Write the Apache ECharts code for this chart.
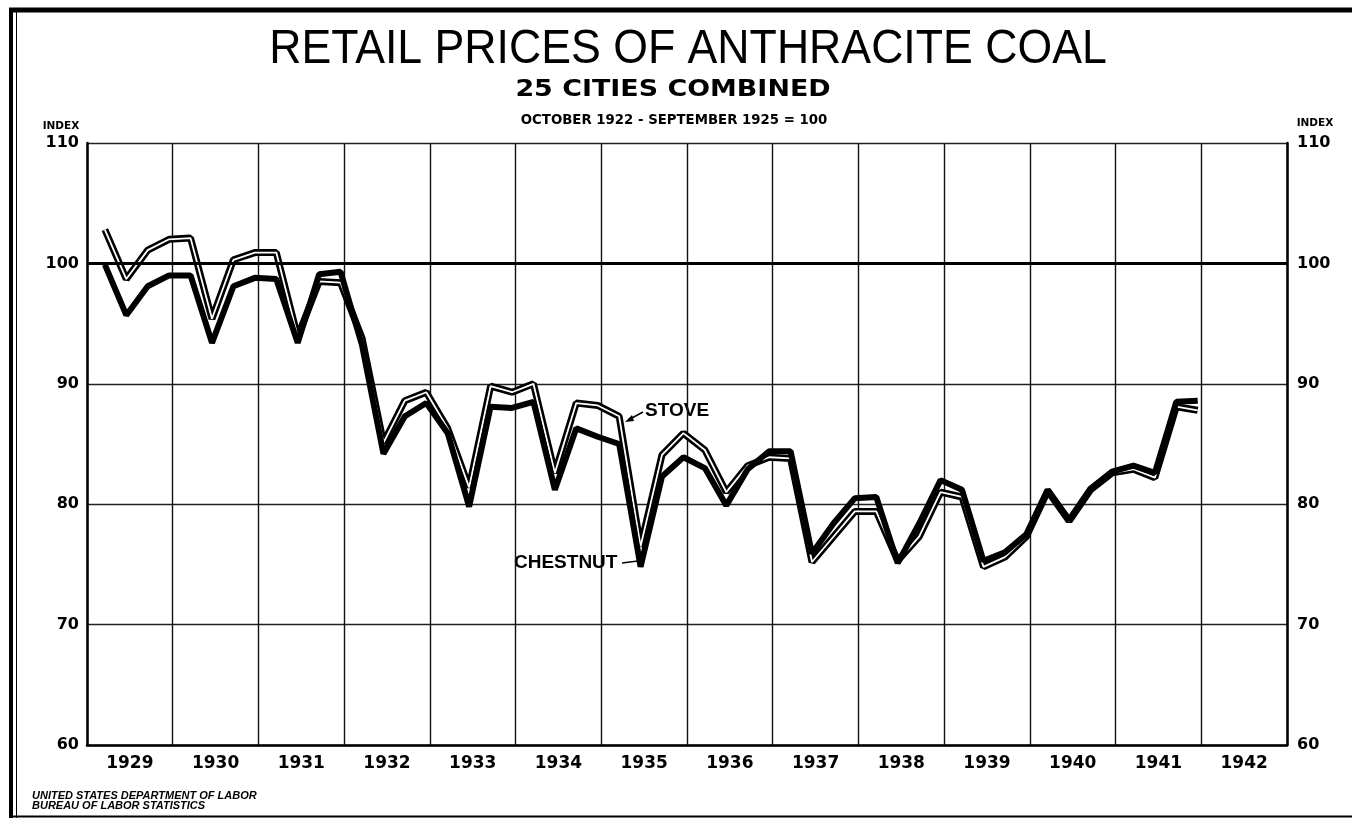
<!DOCTYPE html>
<html>
<head>
<meta charset="utf-8">
<script src="https://cdn.jsdelivr.net/npm/echarts@6/dist/echarts.min.js"></script>
<style>
  html, body { margin: 0; padding: 0; background: #fff; }
  #chart { width: 1352px; height: 818px; }
</style>
</head>
<body>
<div id="chart"></div>
<script>
// ---- data ----
const years = ['1929','1930','1931','1932','1933','1934','1935','1936','1937','1938','1939','1940','1941','1942'];
const firstYear = 1929;
const quarterMonths = [3, 6, 9, 12];   // March, June, September, December
const stove = [
  102.8, 98.7, 101.1, 102.0,
  102.1, 95.4, 100.3, 100.9,
  100.9, 93.9, 98.5, 98.4,
  93.8, 85.1, 88.6, 89.3,
  86.3, 81.4, 89.8, 89.3,
  90.0, 82.6, 88.4, 88.2,
  87.3, 76.5, 84.1, 85.9,
  84.5, 81.0, 83.2, 83.9,
  83.8, 75.2, 77.3, 79.4,
  79.4, 75.3, 77.3, 81.0,
  80.6, 74.8, 75.6, 77.3,
  81.1, 78.6, 81.2, 82.6,
  82.9, 82.2, 88.1, 87.8
];
const chestnut = [
  99.9, 95.7, 98.1, 99.0,
  99.0, 93.4, 98.1, 98.8,
  98.7, 93.4, 99.1, 99.3,
  93.2, 84.2, 87.3, 88.4,
  85.9, 79.8, 88.1, 88.0,
  88.5, 81.2, 86.3, 85.6,
  85.0, 74.8, 82.3, 83.9,
  83.0, 79.9, 82.9, 84.4,
  84.4, 75.9, 78.4, 80.5,
  80.6, 75.1, 78.4, 82.0,
  81.2, 75.3, 76.0, 77.5,
  81.2, 78.7, 81.3, 82.7,
  83.2, 82.6, 88.5, 88.6
];
const yMin = 60, yMax = 110, yStep = 10;
const baseLine = 100;

function toPoints(vals) {
  return vals.map((v, i) => [firstYear + Math.floor(i / 4) + (quarterMonths[i % 4] - 0.5) / 12, v]);
}

const LAB = 'DejaVu Sans';
const chart = echarts.init(document.getElementById('chart'), null, { renderer: 'canvas' });

const option = {
  animation: false,
  backgroundColor: '#fff',
  grid: { left: 87, right: 65, top: 143, bottom: 73, containLabel: false },
  xAxis: [
    {
      type: 'category', data: years, boundaryGap: true, position: 'bottom',
      axisLine: { show: true, lineStyle: { color: '#000', width: 2.5 } },
      axisTick: { show: false },
      axisLabel: { color: '#000', fontSize: 17, fontWeight: 'bold', fontFamily: LAB, margin: 10 },
      splitLine: { show: true, lineStyle: { color: '#111', width: 1.4 } }
    },
    { type: 'value', min: firstYear, max: firstYear + years.length, show: false }
  ],
  yAxis: [
    {
      type: 'value', min: yMin, max: yMax, interval: yStep, position: 'left',
      axisLine: { show: true, lineStyle: { color: '#000', width: 2.5 } },
      axisTick: { show: false },
      axisLabel: { color: '#000', fontSize: 16, fontWeight: 'bold', fontFamily: LAB, margin: 8 },
      splitLine: { show: true, lineStyle: { color: '#222', width: 1.3 } }
    },
    {
      type: 'value', min: yMin, max: yMax, interval: yStep, position: 'right',
      axisLine: { show: true, lineStyle: { color: '#000', width: 2.5 } },
      axisTick: { show: false },
      axisLabel: { color: '#000', fontSize: 16, fontWeight: 'bold', fontFamily: LAB, margin: 10 },
      splitLine: { show: false }
    }
  ],
  series: [
    {
      name: 'Stove', type: 'line', xAxisIndex: 1, yAxisIndex: 0,
      data: toPoints(stove), symbol: 'none', z: 3,
      lineStyle: { color: '#000', width: 7 }
    },
    {
      name: 'Stove center', type: 'line', xAxisIndex: 1, yAxisIndex: 0,
      data: toPoints(stove), symbol: 'none', z: 4,
      lineStyle: { color: '#fff', width: 1.8 }
    },
    {
      name: 'Chestnut', type: 'line', xAxisIndex: 1, yAxisIndex: 0,
      data: toPoints(chestnut), symbol: 'none', z: 5,
      lineStyle: { color: '#000', width: 6 },
      markLine: {
        silent: true, symbol: ['none', 'none'], label: { show: false },
        lineStyle: { color: '#000', width: 2.8, type: 'solid' },
        data: [{ yAxis: baseLine }]
      }
    }
  ],
  graphic: [
    // page frame
    { type: 'line', shape: { x1: 11, y1: 8, x2: 11, y2: 818 }, style: { stroke: '#000', lineWidth: 4 } },
    { type: 'line', shape: { x1: 16.5, y1: 12, x2: 16.5, y2: 818 }, style: { stroke: '#000', lineWidth: 1 } },
    { type: 'line', shape: { x1: 9, y1: 10, x2: 1352, y2: 10 }, style: { stroke: '#000', lineWidth: 5 } },
    { type: 'line', shape: { x1: 9, y1: 816.5, x2: 1352, y2: 816.5 }, style: { stroke: '#000', lineWidth: 2 } },
    // titles
    { type: 'text', x: 688, y: 50, scaleX: 0.93,
      style: { text: 'RETAIL PRICES OF ANTHRACITE COAL', font: 'normal 48px "Liberation Sans"', fill: '#000', align: 'center', verticalAlign: 'middle' } },
    { type: 'text', x: 673, y: 90, scaleX: 1.17,
      style: { text: '25 CITIES COMBINED', font: 'bold 23px "DejaVu Sans"', fill: '#000', align: 'center', verticalAlign: 'middle' } },
    { type: 'text', x: 674, y: 120, scaleX: 0.95,
      style: { text: 'OCTOBER 1922 - SEPTEMBER 1925 = 100', font: 'bold 14px "DejaVu Sans"', fill: '#000', align: 'center', verticalAlign: 'middle' } },
    // INDEX labels
    { type: 'text', x: 61, y: 126, style: { text: 'INDEX', font: 'bold 10.5px "DejaVu Sans"', fill: '#000', align: 'center', verticalAlign: 'middle' } },
    { type: 'text', x: 1315, y: 123, style: { text: 'INDEX', font: 'bold 10.5px "DejaVu Sans"', fill: '#000', align: 'center', verticalAlign: 'middle' } },
    // credit
    { type: 'text', x: 32, y: 796, style: { text: 'UNITED STATES DEPARTMENT OF LABOR', font: 'italic bold 11px "Liberation Sans"', fill: '#000', verticalAlign: 'middle' } },
    { type: 'text', x: 32, y: 806, style: { text: 'BUREAU OF LABOR STATISTICS', font: 'italic bold 11px "Liberation Sans"', fill: '#000', verticalAlign: 'middle' } },
    // annotations
    { type: 'text', x: 645, y: 411, style: { text: 'STOVE', font: 'bold 19px "Liberation Sans"', fill: '#000', verticalAlign: 'middle' } },
    { type: 'line', shape: { x1: 643, y1: 412, x2: 630, y2: 419 }, style: { stroke: '#000', lineWidth: 1.5 } },
    { type: 'polygon', shape: { points: [[625, 422], [632, 415], [634, 421]] }, style: { fill: '#000' } },
    { type: 'text', x: 514, y: 563, style: { text: 'CHESTNUT', font: 'bold 19px "Liberation Sans"', fill: '#000', verticalAlign: 'middle' } },
    { type: 'line', shape: { x1: 622, y1: 563, x2: 638, y2: 561 }, style: { stroke: '#000', lineWidth: 1.5 } },
    { type: 'polygon', shape: { points: [[644, 560], [637, 557], [638, 564]] }, style: { fill: '#000' } }
  ]
};
chart.setOption(option);
</script>
</body>
</html>
